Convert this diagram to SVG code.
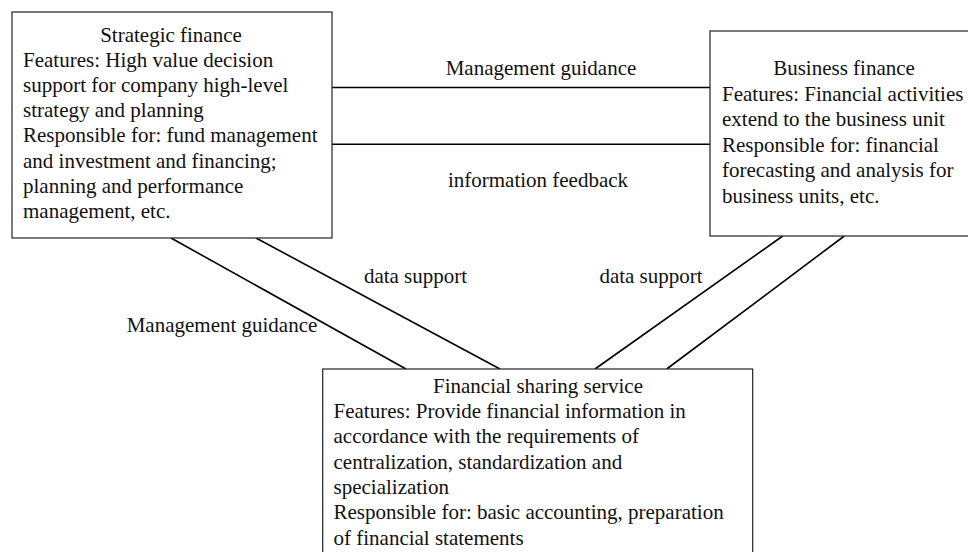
<svg xmlns="http://www.w3.org/2000/svg" width="968" height="552" viewBox="0 0 968 552">
<style>
text{font-family:"Liberation Serif","Times New Roman",serif;font-size:21px;fill:#111}
.box{fill:#fff;stroke:#222;stroke-width:1.2}
.c{text-anchor:middle}
.ln{stroke:#000;stroke-width:1.6;fill:none}
</style>
<rect width="968" height="552" fill="#fff"/>
<g id="connectors">
<line class="ln" x1="332" y1="87.5" x2="710" y2="87.5"/>
<line class="ln" x1="332" y1="144.3" x2="710" y2="144.3"/>
<line class="ln" x1="171" y1="238" x2="406" y2="369"/>
<line class="ln" x1="256" y1="238" x2="500" y2="369"/>
<line class="ln" x1="782.7" y1="236" x2="595" y2="369"/>
<line class="ln" x1="844.3" y1="236" x2="666.7" y2="369"/>
<text class="c" x="541" y="75">Management guidance</text>
<text class="c" x="538" y="187.3">information feedback</text>
<text class="c" x="415.5" y="283.3">data support</text>
<text class="c" x="651" y="283.3">data support</text>
<text class="c" x="222" y="331.7">Management guidance</text>
</g>
<g id="strategic">
<rect class="box" x="12" y="12" width="320" height="226"/>
<text class="c" x="171" y="41.5">Strategic finance</text>
<text x="23" y="66.7">Features: High value decision</text>
<text x="23" y="91.9">support for company high-level</text>
<text x="23" y="117.1">strategy and planning</text>
<text x="23" y="142.3">Responsible for: fund management</text>
<text x="23" y="167.5">and investment and financing;</text>
<text x="23" y="192.7">planning and performance</text>
<text x="23" y="217.9">management, etc.</text>
</g>
<g id="business">
<rect class="box" x="710" y="31" width="270" height="205"/>
<text class="c" x="844" y="75">Business finance</text>
<text x="722" y="100.5">Features: Financial activities</text>
<text x="722" y="126">extend to the business unit</text>
<text x="722" y="151.5">Responsible for: financial</text>
<text x="722" y="177">forecasting and analysis for</text>
<text x="722" y="202.5">business units, etc.</text>
</g>
<g id="sharing">
<rect class="box" x="322.7" y="369" width="430" height="195"/>
<text class="c" x="538" y="392.7">Financial sharing service</text>
<text x="333.5" y="418">Features: Provide financial information in</text>
<text x="333.5" y="443.3">accordance with the requirements of</text>
<text x="333.5" y="468.6">centralization, standardization and</text>
<text x="333.5" y="493.9">specialization</text>
<text x="333.5" y="519.2">Responsible for: basic accounting, preparation</text>
<text x="333.5" y="544.5">of financial statements</text>
</g>
</svg>
